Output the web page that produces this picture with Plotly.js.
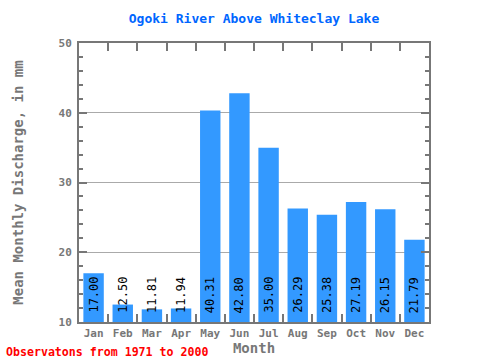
<!DOCTYPE html>
<html><head><meta charset="utf-8">
<script src="https://cdn.plot.ly/plotly-3.0.1.min.js"></script>
<style>body{margin:0;padding:0;background:#fff}#chart{width:480px;height:360px}</style>
</head><body><div id="chart"></div>
<script>
const months = ["Jan","Feb","Mar","Apr","May","Jun","Jul","Aug","Sep","Oct","Nov","Dec"];
const discharge = [17.00,12.50,11.81,11.94,40.31,42.80,35.00,26.29,25.38,27.19,26.15,21.79];
const labels = ["17.00","12.50","11.81","11.94","40.31","42.80","35.00","26.29","25.38","27.19","26.15","21.79"];
const baseValue = 10;

const mono = "DejaVu Sans Mono, monospace";
const trace = {
  type: "bar", x: months, y: discharge.map(v => v - baseValue), base: baseValue,
  marker: {color: "#3399FF"}, hoverinfo: "skip"
};
const annotations = months.map((m, i) => ({
  x: m, y: baseValue, xref: "x", yref: "y", text: labels[i], showarrow: false,
  textangle: -90, yanchor: "bottom", xanchor: "center", yshift: 7,
  font: {family: mono, size: 12, color: "#000"}
}));
annotations.push({
  xref: "paper", yref: "paper", x: -75/350, y: -30/279, xanchor: "left", yanchor: "middle",
  text: "<b>Observatons from 1971 to 2000</b>", showarrow: false,
  font: {family: mono, size: 11.6, color: "#ff0000"}
});
const layout = {
  width: 480, height: 360, margin: {l: 79, r: 51, t: 43, b: 38},
  paper_bgcolor: "#fff", plot_bgcolor: "#fff", showlegend: false, bargap: 0.3,
  title: {text: "<b>Ogoki River Above Whiteclay Lake</b>", x: 254/480, xanchor: "center", y: 1 - 18/360, yanchor: "middle",
    font: {family: mono, size: 13, color: "#0066ff"}},
  xaxis: {
    type: "category", tickson: "boundaries", ticks: "inside", ticklen: 8, tickwidth: 2, tickcolor: "#777",
    showline: true, linecolor: "#777", linewidth: 2, mirror: "ticks", showgrid: false, tickangle: 0,
    tickfont: {family: mono, size: 11, color: "#777", weight: "bold"},
    title: {text: "<b>Month</b>", font: {family: mono, size: 14, color: "#777"}, standoff: 2}
  },
  yaxis: {
    range: [10, 50], dtick: 10, ticks: "inside", ticklen: 8, tickwidth: 2, tickcolor: "#777",
    showline: true, linecolor: "#777", linewidth: 2, mirror: "ticks",
    showgrid: true, gridcolor: "#aaa", gridwidth: 1, zeroline: false,
    minor: {dtick: 2, ticks: "inside", ticklen: 4, tickcolor: "#777", showgrid: false},
    tickfont: {family: mono, size: 11, color: "#777", weight: "bold"}, ticklabelstandoff: 3,
    title: {text: "<b>Mean Monthly Discharge, in mm</b>", font: {family: mono, size: 14, color: "#777"}, standoff: 32}
  },
  annotations: annotations
};
Plotly.newPlot("chart", [trace], layout, {displayModeBar: false, staticPlot: true});
</script></body></html>
